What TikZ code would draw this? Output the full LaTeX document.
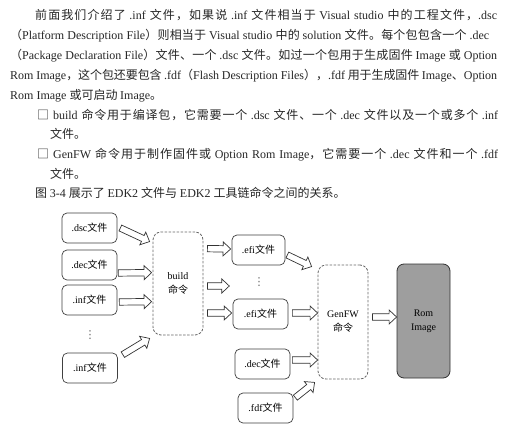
\documentclass[tikz,border=0pt]{standalone}
\usepackage{fontspec}
\setmainfont{Liberation Serif}
\newfontfamily\cjk{Noto Sans CJK SC}
\newfontfamily\symfont{DejaVu Sans}
\usetikzlibrary{calc}

% Chinese characters go to the CJK font, the rest stays in the main font
\newXeTeXintercharclass\zhclass
\newcount\zhcnt
\newcommand{\zhrange}[2]{\zhcnt=#1\relax
  \loop\XeTeXcharclass\zhcnt=\zhclass\relax
    \advance\zhcnt by 1\relax
  \ifnum\zhcnt<#2\relax\repeat}
\zhrange{"3000}{"3040}
\zhrange{"4E00}{"A000}
\zhrange{"FF00}{"FFF0}
\XeTeXinterchartokenstate=1
\XeTeXinterchartoks 0 \zhclass = {\cjk}
\XeTeXinterchartoks \zhclass 0 = {\rmfamily}
\XeTeXinterchartoks 4095 \zhclass = {\cjk}
\XeTeXinterchartoks 4095 0 = {\rmfamily}
\XeTeXinterchartoks \zhclass \zhclass = {\hskip 0pt plus 1.5pt minus 0.4pt}

% outlined block arrow between two points
\newcommand{\hollowarrow}[2]{%
  \coordinate (ha) at #1;
  \coordinate (hb) at #2;
  \coordinate (hc) at ($(hb)!7.5pt!(ha)$);
  \draw[hollow] ($(ha)!3.2pt!90:(hb)$) -- ($(hc)!3.2pt!90:(hb)$) -- ($(hc)!7pt!90:(hb)$)
    -- (hb) -- ($(hc)!7pt!-90:(hb)$) -- ($(hc)!3.2pt!-90:(hb)$) -- ($(ha)!3.2pt!-90:(hb)$) -- cycle;}

\newcommand{\boxsq}{{\XeTeXinterchartokenstate=0 \cjk □}}
\newcommand{\vdotsym}{{\XeTeXinterchartokenstate=0 \symfont ⋮}}

\begin{document}
\begin{tikzpicture}[
			x=1pt, y=-1pt,
			textline/.style={anchor=base west, inner sep=0pt, text=black!85, font=\fontsize{12}{20}\selectfont},
			filebox/.style={rectangle, rounded corners=5pt, draw=black!75, line width=0.7pt, minimum width=55pt, minimum height=30pt, inner sep=1pt, font=\fontsize{10}{12}\selectfont},
			cmdbox/.style={rectangle, rounded corners=8pt, draw=black!60, line width=0.8pt, dash pattern=on 2.5pt off 1.5pt, minimum width=50pt, align=center, font=\fontsize{10}{14}\selectfont},
			rombox/.style={rectangle, rounded corners=7pt, draw=black!80, line width=0.8pt, fill=black!38, minimum width=53pt, minimum height=114pt, align=center, font=\fontsize{10}{14}\selectfont},
			dotsnode/.style={inner sep=0pt, text=black!60, font=\fontsize{11}{12}\selectfont},
			hollow/.style={draw=black!80, line width=0.7pt, fill=white, line join=miter}
			]
			\path[use as bounding box, fill=white] (0,0) rectangle (517,428);
			
			\node[textline] (p1) at (35,19.5) {\makebox[462pt][s]{前面我们介绍了 .inf 文件，如果说 .inf 文件相当于 Visual studio 中的工程文件，.dsc}};
			\node[textline] (p2) at (10,39.5) {\makebox[479pt][s]{（Platform Description File）则相当于 Visual studio 中的 solution 文件。每个包包含一个 .dec}};
			\node[textline] (p3) at (10,59.5) {\makebox[487pt][s]{（Package Declaration File）文件、一个 .dsc 文件。如过一个包用于生成固件 Image 或 Option}};
			\node[textline] (p4) at (10,79.5) {\makebox[487pt][s]{Rom Image，这个包还要包含 .fdf（Flash Description Files），.fdf 用于生成固件 Image、Option}};
			\node[textline] (p5) at (10,99.5) {Rom Image 或可启动 Image。};
			\node[textline] (item1) at (37,119.5) {\makebox[461pt][s]{\boxsq{} build 命令用于编译包，它需要一个 .dsc 文件、一个 .dec 文件以及一个或多个 .inf}};
			\node[textline] (item1b) at (50,138.5) {文件。};
			\node[textline] (item2) at (37,158) {\makebox[461pt][s]{\boxsq{} GenFW 命令用于制作固件或 Option Rom Image，它需要一个 .dec 文件和一个 .fdf}};
			\node[textline] (item2b) at (50,178) {文件。};
			\node[textline] (figref) at (35,197.5) {图 3-4 展示了 EDK2 文件与 EDK2 工具链命令之间的关系。};
			
			\node[filebox] (dsc) at (89.5,228) {.dsc文件};
			\node[filebox] (dec) at (89.5,265) {.dec文件};
			\node[filebox] (inf) at (89.5,300) {.inf文件};
			\node[dotsnode] (infdots) at (90,335) {\vdotsym};
			\node[filebox] (infn) at (90,368) {.inf文件};
			\node[cmdbox, minimum height=103pt] (build) at (178,283.5) {build\\命令};
			
			\node[filebox, minimum width=53pt] (efi) at (258.5,250) {.efi文件};
			\node[dotsnode] (efidots) at (259,282) {\vdotsym};
			\node[filebox] (efin) at (260.5,314) {.efi文件};
			\node[filebox] (decr) at (262.5,364) {.dec文件};
			\node[filebox] (fdf) at (265.5,408) {.fdf文件};
			\node[cmdbox, minimum height=114pt] (genfw) at (343,322) {GenFW\\命令};
			\node[rombox] (rom) at (423.5,321) {Rom\\Image};
			
			\hollowarrow{($(dsc.east)+(3,0)$)}{($(build.north west)+(-3,10)$)}
			\hollowarrow{($(dec.east)+(1,8)$)}{($(build.north west)+(-1,41)$)}
			\hollowarrow{($(inf.east)+(2,2)$)}{($(build.north west)+(-1,70)$)}
			\hollowarrow{($(infn.north east)+(5,2)$)}{($(build.south west)+(-3,3)$)}
			\hollowarrow{($(build.north east)+(4,17)$)}{($(efi.west)+(-1,-1)$)}
			\hollowarrow{($(build.east)+(4,2.5)$)}{($(efidots.west)+(-24,4)$)}
			\hollowarrow{($(build.east)+(4,29.5)$)}{($(efin.west)+(-1,-1)$)}
			\hollowarrow{($(efi.east)+(2,5)$)}{($(genfw.north west)+(-6,2)$)}
			\hollowarrow{($(efin.east)+(4,-1)$)}{($(genfw.west)+(0,-9)$)}
			\hollowarrow{($(decr.east)+(2,-4)$)}{($(genfw.west)+(0,38)$)}
			\hollowarrow{($(fdf.north east)+(2,5)$)}{($(genfw.south west)+(-3,3)$)}
			\hollowarrow{($(genfw.east)+(4,-5)$)}{($(rom.west)+(0,-4)$)}
		\end{tikzpicture}
\end{document}
